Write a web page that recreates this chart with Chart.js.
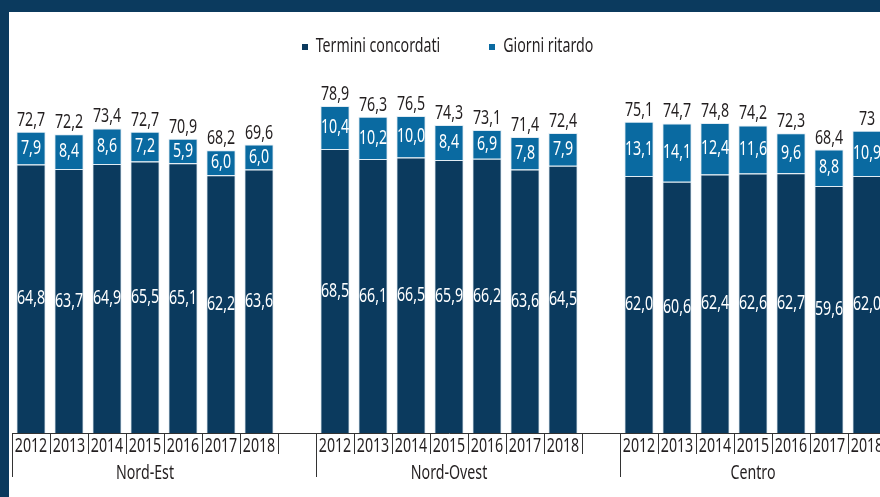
<!DOCTYPE html>
<html>
<head>
<meta charset="utf-8">
<script src="https://cdn.jsdelivr.net/npm/chart.js@4/dist/chart.umd.min.js"></script>
<style>
  html, body { margin: 0; padding: 0; width: 880px; height: 497px; overflow: hidden; background: #ffffff; }
  .edge-left { position: absolute; left: 0; top: 0; width: 9px; height: 497px; background: #0b3a5e; }
  .edge-top { position: absolute; left: 0; top: 0; width: 880px; height: 12px; background: #0b3a5e; }
  #chart { position: absolute; left: 9px; top: 12px; }
</style>
</head>
<body>
<div class="edge-left"></div>
<div class="edge-top"></div>
<canvas id="chart" width="880" height="485"></canvas>
<script>
// Years shown inside each area; an empty slot separates the areas.
const years = ['2012', '2013', '2014', '2015', '2016', '2017', '2018'];
const areas = ['Nord-Est', 'Nord-Ovest', 'Centro'];

// Days agreed in the contract, by area and year
const terminiNordEst   = [64.8, 63.7, 64.9, 65.5, 65.1, 62.2, 63.6];
const terminiNordOvest = [68.5, 66.1, 66.5, 65.9, 66.2, 63.6, 64.5];
const terminiCentro    = [62.0, 60.6, 62.4, 62.6, 62.7, 59.6, 62.0];

// Days of delay beyond the agreed terms
const ritardoNordEst   = [7.9, 8.4, 8.6, 7.2, 5.9, 6.0, 6.0];
const ritardoNordOvest = [10.4, 10.2, 10.0, 8.4, 6.9, 7.8, 7.9];
const ritardoCentro    = [13.1, 14.1, 12.4, 11.6, 9.6, 8.8, 10.9];

// Total payment days printed above each bar
const totaleNordEst   = [72.7, 72.2, 73.4, 72.7, 70.9, 68.2, 69.6];
const totaleNordOvest = [78.9, 76.3, 76.5, 74.3, 73.1, 71.4, 72.4];
const totaleCentro    = [75.1, 74.7, 74.8, 74.2, 72.3, 68.4, 73];

const NAVY = '#0b3a5e';
const BLUE = '#0a6aa1';
const INK = '#231f20';
const FONT = '"Noto Sans", "Open Sans", sans-serif';
const FONT_SIZE = 20;
const NARROW = 0.71;   // horizontal squeeze for a condensed look

// Flatten the areas into one category axis with a blank slot between areas
function joinAreas(parts, filler) {
  const out = [];
  parts.forEach((p, i) => {
    if (i > 0) out.push(filler);
    out.push(...p);
  });
  return out;
}
const labels = joinAreas([years, years, years], '');
const termini = joinAreas([terminiNordEst, terminiNordOvest, terminiCentro], null);
const ritardo = joinAreas([ritardoNordEst, ritardoNordOvest, ritardoCentro], null);
const totali = joinAreas([totaleNordEst, totaleNordOvest, totaleCentro], null);
const areaStarts = areas.map((_, i) => i * (years.length + 1));

const fmtOne = v => v.toLocaleString('it-IT', { minimumFractionDigits: 1, maximumFractionDigits: 1 });
const fmtTotal = v => v.toLocaleString('it-IT', { minimumFractionDigits: 0, maximumFractionDigits: 1 });

// Draws condensed text; align is applied after the squeeze
function narrowText(ctx, text, x, y, align, baseline, color) {
  ctx.save();
  ctx.font = FONT_SIZE + 'px ' + FONT;
  ctx.fillStyle = color;
  ctx.textAlign = align;
  ctx.textBaseline = baseline;
  ctx.translate(x, y);
  ctx.scale(NARROW, 1);
  ctx.fillText(text, 0, 0);
  ctx.restore();
}
function narrowWidth(ctx, text) {
  ctx.save();
  ctx.font = FONT_SIZE + 'px ' + FONT;
  const w = ctx.measureText(text).width * NARROW;
  ctx.restore();
  return w;
}

// Value labels inside segments and totals above the stacks
const valueLabels = {
  id: 'valueLabels',
  afterDatasetsDraw(chart) {
    const ctx = chart.ctx;
    chart.data.datasets.forEach((ds, di) => {
      chart.getDatasetMeta(di).data.forEach((bar, i) => {
        const v = ds.data[i];
        if (v == null) return;
        const p = bar.getProps(['x', 'y', 'base'], true);
        narrowText(ctx, fmtOne(v), p.x, (p.y + p.base) / 2, 'center', 'middle', '#ffffff');
      });
    });
    chart.getDatasetMeta(1).data.forEach((bar, i) => {
      const t = totali[i];
      if (t == null) return;
      const p = bar.getProps(['x', 'y'], true);
      narrowText(ctx, fmtTotal(t), p.x, p.y - 6, 'center', 'alphabetic', INK);
    });
  }
};

// Year labels between the tick marks, then area names with long separators
const areaAxis = {
  id: 'areaAxis',
  afterDraw(chart) {
    const ctx = chart.ctx;
    const x = chart.scales.x;
    const bottom = chart.chartArea.bottom;
    const slot = x.getPixelForValue(1) - x.getPixelForValue(0);
    x.ticks.forEach((t, i) => {
      const text = chart.data.labels[i];
      if (!text) return;
      narrowText(ctx, text, x.getPixelForTick(i), bottom + 13, 'center', 'middle', INK);
    });
    ctx.save();
    ctx.strokeStyle = '#333333';
    ctx.lineWidth = 1;
    areas.forEach((name, a) => {
      const first = areaStarts[a];
      const last = first + years.length - 1;
      const left = Math.round(x.getPixelForValue(first) - slot / 2) + 0.5;
      ctx.beginPath();
      ctx.moveTo(left, bottom);
      ctx.lineTo(left, bottom + 44);
      ctx.stroke();
      const cx = (x.getPixelForValue(first) + x.getPixelForValue(last)) / 2;
      narrowText(ctx, name, cx, bottom + 40, 'center', 'middle', INK);
    });
    ctx.restore();
  }
};

// Legend with small square markers, centred above the plot
const squareLegend = {
  id: 'squareLegend',
  afterDraw(chart) {
    const ctx = chart.ctx;
    const items = chart.data.datasets;
    const box = 6, gapText = 8, gapItem = 49;
    const widths = items.map(d => box + gapText + narrowWidth(ctx, d.label));
    const total = widths.reduce((s, w) => s + w, 0) + gapItem * (items.length - 1);
    let cx = 438.5 - total / 2;
    const cy = 34;
    items.forEach((d, i) => {
      ctx.fillStyle = d.backgroundColor;
      ctx.fillRect(Math.round(cx), cy - box / 2 + 1, box, box);
      narrowText(ctx, d.label, cx + box + gapText, cy, 'left', 'middle', INK);
      cx += widths[i] + gapItem;
    });
  }
};

new Chart(document.getElementById('chart'), {
  type: 'bar',
  data: {
    labels: labels,
    datasets: [
      {
        label: 'Termini concordati',
        data: termini,
        backgroundColor: NAVY,
        borderColor: 'rgba(200,220,235,0.55)',
        borderWidth: 1
      },
      {
        label: 'Giorni ritardo',
        data: ritardo,
        backgroundColor: BLUE,
        borderColor: 'rgba(200,220,235,0.55)',
        borderWidth: 1
      }
    ]
  },
  options: {
    responsive: false,
    devicePixelRatio: 1,
    animation: false,
    layout: { padding: { top: 48, left: 3, right: 3, bottom: 0 } },
    datasets: { bar: { categoryPercentage: 1, barPercentage: 0.77 } },
    plugins: {
      legend: { display: false },
      tooltip: { enabled: false }
    },
    scales: {
      x: {
        stacked: true,
        offset: true,
        afterFit(scale) { scale.height = 64; },
        border: { display: true, color: '#333333', width: 1 },
        grid: {
          offset: true,
          drawOnChartArea: false,
          drawTicks: true,
          tickLength: 21,
          color: '#333333'
        },
        ticks: { display: false, autoSkip: false }
      },
      y: {
        stacked: true,
        display: false,
        min: 0,
        max: 90
      }
    }
  },
  plugins: [valueLabels, areaAxis, squareLegend]
});
</script>
</body>
</html>
